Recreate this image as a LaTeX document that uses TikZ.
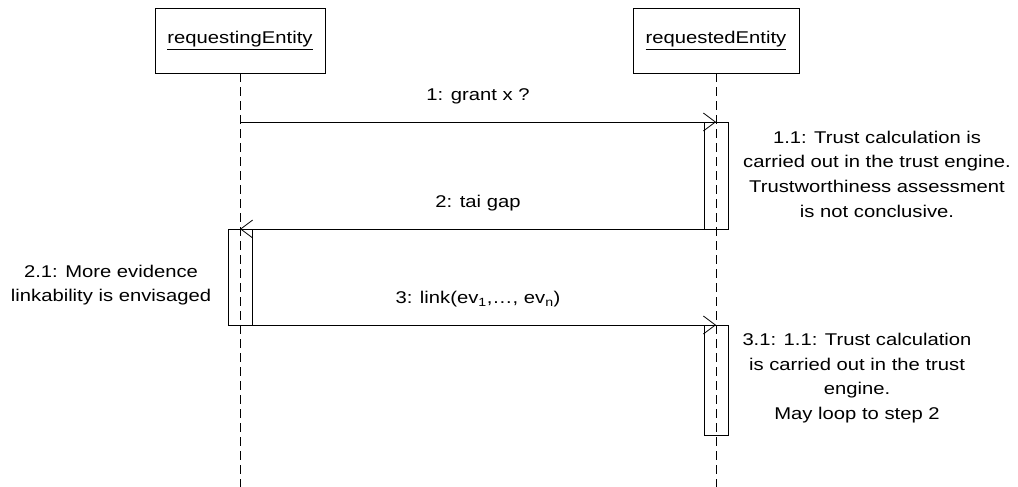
\documentclass[tikz,border=0pt]{standalone}
\usepackage{fontspec}
\setmainfont{Liberation Sans}[FakeStretch=1.19]
\usetikzlibrary{arrows.meta}
\tikzset{
    entity/.style={draw,line width=0.8pt,minimum height=65pt,inner sep=0pt,font=\fontsize{17}{20}\selectfont},
    lifeline/.style={line width=0.8pt,dash pattern=on 9pt off 5pt},
    bar/.style={draw,line width=0.8pt,minimum width=24pt,inner sep=0pt,outer sep=0pt},
    msg/.style={line width=0.8pt,-{Straight Barb[length=12pt,width=18pt]}},
    msglabel/.style={font=\fontsize{17}{20}\selectfont,text height=12pt,text depth=4pt,inner sep=0pt},
    note/.style={align=center,inner sep=0pt,font=\fontsize{17}{24.7}\selectfont}
}
\begin{document}
\begin{tikzpicture}[x=1pt,y=-1pt]
                            \useasboundingbox (0,0) rectangle (1018,487);
                            \coordinate (bottom) at (0,487);
                            % participants
                            \node[entity,minimum width=170pt] (req) at (240,40.5) {\underline{requestingEntity}};
                            \node[entity,minimum width=166pt] (red) at (716,40.5) {\underline{requestedEntity}};
                            \draw[lifeline] (req.south) -- (req.south |- bottom);
                            \draw[lifeline] (red.south) -- (red.south |- bottom);
                            % activations
                            \node[bar,minimum height=107pt] (act1) at (716,175.5) {};
                            \node[bar,minimum height=96pt] (act2) at (240,277) {};
                            \node[bar,minimum height=110pt] (act3) at (716,380) {};
                            % messages
                            \draw[msg] (req |- act1.north) -- (act1.north)
                                node[msglabel,midway,above=17pt] {1: grant x ?};
                            \draw[msg] (act1.south) -- (req |- act1.south)
                                node[msglabel,midway,above=17pt] {2: tai gap};
                            \draw[msg] (act2.south) -- (act3.north)
                                node[msglabel,midway,above=17pt] {3: link(ev\textsubscript{1},\dots, ev\textsubscript{n})};
                            % notes
                            \node[note] (n1) at (877,174) {1.1: Trust calculation is\\carried out in the trust engine.\\Trustworthiness assessment\\is not conclusive.};
                            \node[note] (n2) at (111,285) {2.1: More evidence\\linkability is envisaged};
                            \node[note] (n3) at (857,378) {3.1: 1.1: Trust calculation\\is carried out in the trust\\engine.\\May loop to step 2};
                        \end{tikzpicture}
\end{document}
